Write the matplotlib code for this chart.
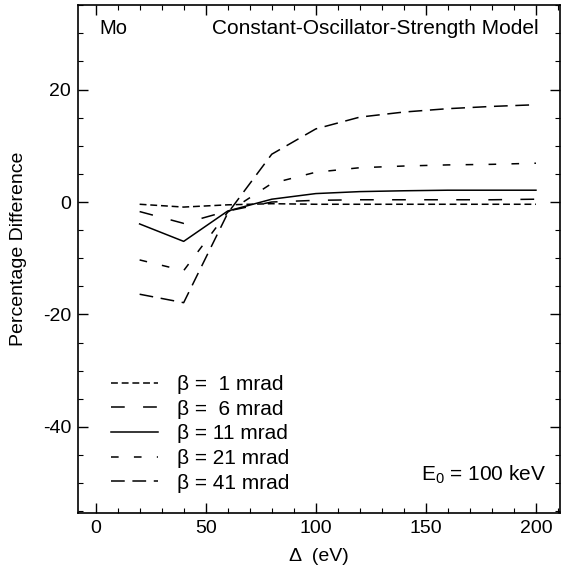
"""
Mo, constant-oscillator-strength model: percentage difference vs. Delta
for several collection semi-angles beta (E0 = 100 keV).

Saves: out.png
"""
import matplotlib
matplotlib.use("Agg")
import matplotlib.pyplot as plt
from matplotlib.ticker import MultipleLocator

plt.rcParams["font.family"] = ["Liberation Sans", "DejaVu Sans"]
plt.rcParams["mathtext.default"] = "regular"
plt.rcParams["axes.unicode_minus"] = False

delta = [20, 40, 60, 80, 100, 120, 140, 160, 180, 200]

beta_1 = [-0.4, -0.9, -0.5, -0.3, -0.4, -0.4, -0.4, -0.4, -0.4, -0.4]
beta_6 = [-1.7, -3.8, -1.6, 0.0, 0.3, 0.4, 0.4, 0.4, 0.4, 0.5]
beta_11 = [-3.9, -7.0, -1.6, 0.5, 1.5, 1.85, 2.0, 2.1, 2.1, 2.1]
beta_21 = [-10.3, -12.2, -1.8, 3.3, 5.3, 6.1, 6.4, 6.6, 6.7, 6.9]
beta_41 = [-16.4, -17.9, -2.0, 8.5, 13.0, 15.1, 16.0, 16.6, 17.0, 17.3]

labels = ["β =  1 mrad", "β =  6 mrad", "β = 11 mrad", "β = 21 mrad", "β = 41 mrad"]
series = [beta_1, beta_6, beta_11, beta_21, beta_41]
dashes = [(4.5, 2.5), (9, 12), None, (5, 10), (9, 5)]

fig = plt.figure(figsize=(5.63, 5.78), dpi=100)
ax = fig.add_axes([0.1385, 0.1125, 0.8565, 0.8785])

for y, lab, d in zip(series, labels, dashes):
    if d is None:
        ax.plot(delta, y, color="black", lw=1.1, label=lab)
    else:
        ax.plot(delta, y, color="black", lw=1.1, dashes=d, label=lab)

ax.set_xlim(-8, 211)
ax.set_ylim(-55.3, 35)
ax.xaxis.set_major_locator(MultipleLocator(50))
ax.xaxis.set_minor_locator(MultipleLocator(10))
ax.yaxis.set_major_locator(MultipleLocator(20))
ax.yaxis.set_minor_locator(MultipleLocator(5))
ax.tick_params(which="both", direction="in", top=True, right=True, labelsize=14)
ax.tick_params(which="major", length=7, width=1, pad=5)
ax.tick_params(which="minor", length=3.5, width=0.8)
for s in ax.spines.values():
    s.set_linewidth(1.2)

ax.set_xlabel("Δ  (eV)", fontsize=14, labelpad=8)
ax.set_ylabel("Percentage Difference", fontsize=14, labelpad=11, y=0.52)

ax.text(0.045, 0.955, "Mo", transform=ax.transAxes, fontsize=14.5, va="center")
ax.text(0.955, 0.955, "Constant-Oscillator-Strength Model", transform=ax.transAxes,
        fontsize=15, va="center", ha="right")
ax.text(0.97, 0.075, "E$_0$ = 100 keV", transform=ax.transAxes,
        fontsize=15, va="center", ha="right")

ax.legend(loc="lower left", bbox_to_anchor=(0.068, 0.04), frameon=False,
          fontsize=15, handlelength=2.25, handletextpad=0.95, labelspacing=0.27,
          borderpad=0, borderaxespad=0)

fig.savefig("out.png", dpi=100)
